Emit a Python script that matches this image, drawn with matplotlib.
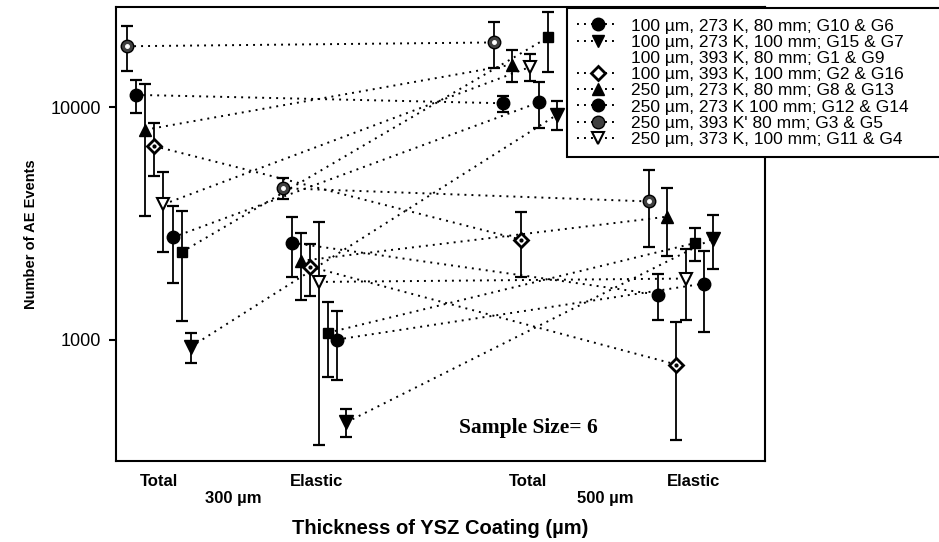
import matplotlib
matplotlib.use("Agg")
import matplotlib.pyplot as plt
import numpy as np
from matplotlib.lines import Line2D
from matplotlib.ticker import FixedLocator, FixedFormatter, NullLocator

plt.rcParams['font.family'] = ['Liberation Sans', 'DejaVu Sans']

# groups along x: Total 300, Elastic 300, Total 500, Elastic 500
groups = ["Total", "Elastic", "Total", "Elastic"]
thickness_labels = ["300 µm", "500 µm"]

# series in plotting order (left to right inside each group)
series = ["H", "CA", "U", "D", "O", "CB", "S", "V"]
mean_H = [18300, 4480, 19000, 3930]
std_H = [3990, 470, 4260, 1420]
mean_CA = [11300, 2610, 10400, 1560]
std_CA = [1840, 750, 820, 350]
mean_U = [8000, 2180, 15250, 3380]
std_U = [4590, 700, 2400, 1100]
mean_D = [6800, 2060, 2690, 780]
std_D = [1720, 520, 840, 410]
mean_O = [3820, 1770, 14900, 1830]
std_O = [1430, 1420, 1990, 620]
mean_CB = [2750, 1000, 10500, 1740]
std_CB = [1000, 330, 2370, 660]
mean_S = [2380, 1070, 20000, 2600]
std_S = [1180, 380, 5760, 420]
mean_V = [930, 440, 9300, 2720]
std_V = [140, 60, 1290, 710]

means = [mean_H, mean_CA, mean_U, mean_D, mean_O, mean_CB, mean_S, mean_V]
stds = [std_H, std_CA, std_U, std_D, std_O, std_CB, std_S, std_V]

legend_labels = [
    "100 µm, 273 K, 80 mm; G10 & G6",
    "100 µm, 273 K, 100 mm; G15 & G7",
    "100 µm, 393 K, 80 mm; G1 & G9",
    "100 µm, 393 K, 100 mm; G2 & G16",
    "250 µm, 273 K, 80 mm; G8 & G13",
    "250 µm, 273 K 100 mm; G12 & G14",
    "250 µm, 393 K' 80 mm; G3 & G5",
    "250 µm, 373 K, 100 mm; G11 & G4",
]

# layout
centers = [0.0, 1.003, 2.365, 3.368]
dx = 0.0587
slot_total = [0, 1, 2, 3, 4, 5, 6, 7]
slot_elastic = [0, 1, 2, 3, 4, 6, 5, 7]

styles = {
    "H":  dict(marker='o', ms=9, mfc='0.25', mec='black'),
    "CA": dict(marker='o', ms=9, mfc='black', mec='black'),
    "U":  dict(marker='^', ms=9, mfc='black', mec='black'),
    "D":  dict(marker='D', ms=7.5, mfc='white', mec='black', mew=2),
    "O":  dict(marker='v', ms=9, mfc='white', mec='black', mew=1.5),
    "CB": dict(marker='o', ms=9, mfc='black', mec='black'),
    "S":  dict(marker='s', ms=7.5, mfc='black', mec='black'),
    "V":  dict(marker='v', ms=10, mfc='black', mec='black'),
}

fig = plt.figure(figsize=(9.39, 5.42), dpi=100)
ax = fig.add_axes([116 / 939, 1 - 461 / 542, (765 - 116) / 939, (461 - 7) / 542])
ax.set_yscale('log')

dot = (0, (1, 2.6))
for i, key in enumerate(series):
    xs = []
    for g in range(4):
        slot = slot_total[i] if g % 2 == 0 else slot_elastic[i]
        xs.append(centers[g] + (slot - 3.5) * dx)
    xs = np.array(xs)
    m = np.array(means[i])
    s = np.array(stds[i])
    # Total 300 -> Total 500, Elastic 300 -> Elastic 500
    ax.plot(xs[[0, 2]], m[[0, 2]], color='black', lw=1.4, ls=dot, zorder=1)
    ax.plot(xs[[1, 3]], m[[1, 3]], color='black', lw=1.4, ls=dot, zorder=1)
    ax.errorbar(xs, m, yerr=s, fmt='none', ecolor='black', elinewidth=1.3,
                capsize=4, capthick=1.6, zorder=2)
    ax.plot(xs, m, ls='none', zorder=3, **styles[key])
    if key == "D":
        ax.plot(xs, m, ls='none', marker='o', ms=2, color='black', zorder=4)
    if key == "H":
        ax.plot(xs, m, ls='none', marker='o', ms=2.5, color='white', zorder=4)

ax.set_xlim(-0.277, 3.91)
ax.set_ylim(300, 27000)

ax.yaxis.set_major_locator(FixedLocator([1000, 10000]))
ax.yaxis.set_major_formatter(FixedFormatter(["1000", "10000"]))
ax.yaxis.set_minor_locator(NullLocator())
ax.tick_params(axis='y', length=5, width=1.5, pad=6, labelsize=13)

ax.set_xticks([0, 1.02, 2.38, 3.45])
ax.set_xticklabels(groups, fontsize=12, fontweight='bold')
ax.tick_params(axis='x', length=0, pad=9)
for xt, lab in zip([0.48, 2.88], thickness_labels):
    ax.text(xt, -0.082, lab, transform=ax.get_xaxis_transform(),
            ha='center', va='center', fontsize=12, fontweight='bold')

ax.set_xlabel("Thickness of YSZ Coating (µm)", fontsize=14.5, fontweight='bold', labelpad=22)
ax.set_ylabel("Number of AE Events", fontsize=10.5, fontweight='bold', labelpad=9)

for sp in ax.spines.values():
    sp.set_linewidth(1.5)

ax.text(0.636, 0.073, "Sample Size= 6", transform=ax.transAxes, ha='center', va='center',
        fontsize=15.5, fontweight='bold', family='Liberation Serif')

# legend, drawn the way the reference shows it
leg_style = [
    dict(marker='o', ms=9, mfc='black', mec='black'),
    dict(marker='v', ms=9, mfc='black', mec='black'),
    None,
    dict(marker='D', ms=7.5, mfc='white', mec='black', mew=2),
    dict(marker='^', ms=9, mfc='black', mec='black'),
    dict(marker='o', ms=9, mfc='black', mec='black'),
    dict(marker='o', ms=9, mfc='0.25', mec='black'),
    dict(marker='v', ms=9, mfc='white', mec='black', mew=1.5),
]
handles = []
for st in leg_style:
    if st is None:
        handles.append(Line2D([], [], ls='none'))
    else:
        handles.append(Line2D([], [], color='black', lw=1.4, ls=dot, **st))

leg = ax.legend(handles, legend_labels, loc='upper left',
                bbox_to_anchor=(567 / 939, 0.5, 0.42, 1 - 8 / 542 - 0.5),
                bbox_transform=fig.transFigure, mode='expand',
                fontsize=12.5, labelspacing=0.06, handlelength=2.4, handletextpad=0.7,
                borderpad=0.6, borderaxespad=0, fancybox=False, framealpha=1,
                edgecolor='black', numpoints=1)
leg.get_frame().set_linewidth(1.5)

fig.savefig("out.png", dpi=100)
